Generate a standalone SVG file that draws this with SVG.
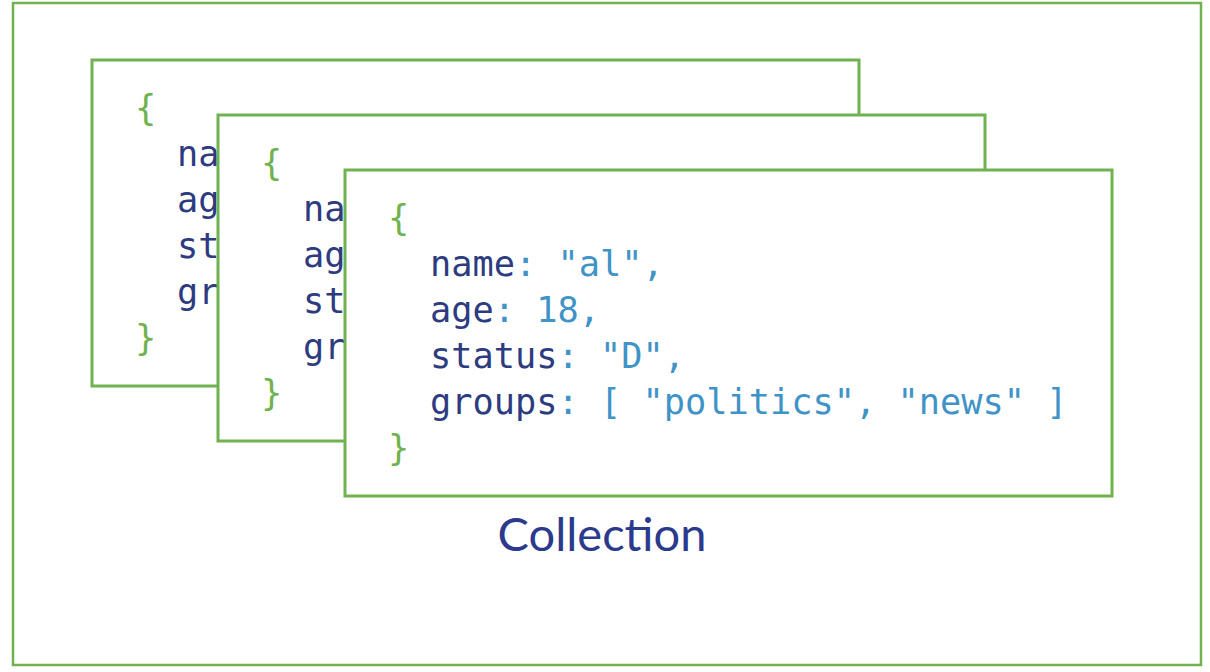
<svg xmlns="http://www.w3.org/2000/svg" width="1210" height="672" viewBox="0 0 1210 672">
<style>
.card{fill:#fff;stroke:#6fb24f;stroke-width:3}
.code{font-family:"DejaVu Sans Mono","Liberation Mono",monospace;font-size:35.3px}
.k{fill:#2d3b80}
.v{fill:#3f93c6}
.b{fill:#6fb24f}
.title{font-family:"Lato","Liberation Sans",sans-serif;font-size:47px;fill:#2b3a8c}
</style>
<rect width="1210" height="672" fill="#fff"/>
<rect x="13" y="3" width="1188" height="662" fill="none" stroke="#6fb24f" stroke-width="2.5"/>
<g id="doc1">
<rect class="card" x="92" y="60" width="767" height="326"/>
<text class="code b" x="135" y="120">{</text>
<text class="code k" x="177" y="166">na</text>
<text class="code k" x="177" y="212">ag</text>
<text class="code k" x="177" y="258">st</text>
<text class="code k" x="177" y="304">gr</text>
<text class="code b" x="135" y="350">}</text>
</g>
<g id="doc2">
<rect class="card" x="218" y="115" width="767" height="326"/>
<text class="code b" x="261" y="175">{</text>
<text class="code k" x="303" y="221">na</text>
<text class="code k" x="303" y="267">ag</text>
<text class="code k" x="303" y="313">st</text>
<text class="code k" x="303" y="359">gr</text>
<text class="code b" x="261" y="405">}</text>
</g>
<g id="doc3">
<rect class="card" x="345" y="170" width="767" height="326"/>
<text class="code" x="388" y="230"><tspan class="b">{</tspan></text>
<text class="code" x="430" y="276"><tspan class="k">name</tspan><tspan class="v">: "al",</tspan></text>
<text class="code" x="430" y="322"><tspan class="k">age</tspan><tspan class="v">: 18,</tspan></text>
<text class="code" x="430" y="368"><tspan class="k">status</tspan><tspan class="v">: "D",</tspan></text>
<text class="code" x="430" y="414"><tspan class="k">groups</tspan><tspan class="v">: [ "politics", "news" ]</tspan></text>
<text class="code" x="388" y="460"><tspan class="b">}</tspan></text>
</g>
<g id="label">
<text class="title" x="602" y="551" text-anchor="middle">Collection</text>
</g>
<g id="connectors"/>
</svg>
